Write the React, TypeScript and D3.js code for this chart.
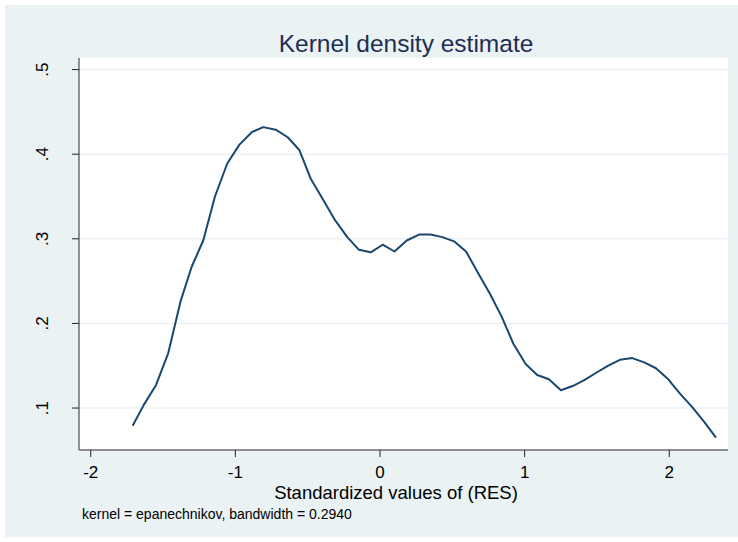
import React from 'react';
import * as d3 from 'd3';

// density estimate (50 evaluation points)
const gridX = [
  -1.710, -1.632, -1.549, -1.464, -1.379, -1.302, -1.222, -1.141, -1.056, -0.973,
  -0.887, -0.807, -0.721, -0.638, -0.558, -0.479, -0.392, -0.311, -0.226, -0.145,
  -0.064, 0.019, 0.100, 0.185, 0.270, 0.350, 0.431, 0.512, 0.595, 0.680,
  0.760, 0.841, 0.922, 1.007, 1.087, 1.168, 1.251, 1.332, 1.412, 1.498,
  1.578, 1.659, 1.744, 1.827, 1.908, 1.993, 2.074, 2.159, 2.240, 2.323,
];
const density = [
  0.079, 0.104, 0.127, 0.165, 0.226, 0.267, 0.298, 0.350, 0.389, 0.411,
  0.426, 0.432, 0.429, 0.420, 0.405, 0.371, 0.346, 0.322, 0.302, 0.287,
  0.284, 0.293, 0.285, 0.298, 0.305, 0.305, 0.302, 0.297, 0.285, 0.259,
  0.235, 0.208, 0.176, 0.152, 0.139, 0.134, 0.121, 0.126, 0.133, 0.142,
  0.150, 0.157, 0.159, 0.154, 0.147, 0.134, 0.117, 0.101, 0.084, 0.065,
];
const xTicks = [-2, -1, 0, 1, 2];
const yTicks = [0.1, 0.2, 0.3, 0.4, 0.5];
const yTickLabels = ['.1', '.2', '.3', '.4', '.5'];

const W = 738;
const H = 542;
const plot = { left: 79, right: 728, top: 58, bottom: 450 };

const App: React.FC = () => {
  const x = d3.scaleLinear().domain([-2.081, 2.406]).range([plot.left, plot.right]);
  const y = d3.scaleLinear().domain([0.0504, 0.5137]).range([plot.bottom, plot.top]);

  const pts: [number, number][] = gridX.map((v, i) => [v, density[i]]);
  const line = d3.line<[number, number]>()
    .x(d => x(d[0]))
    .y(d => y(d[1]));

  const font = '"Liberation Sans", Arial, sans-serif';

  return (
    <svg width={W} height={H} style={{ position: 'absolute', left: 0, top: 0 }} fontFamily={font}>
      <rect x={0} y={0} width={W} height={H} fill="#ffffff" />
      <rect x={5} y={5} width={W - 5} height={H - 10} fill="#eaf2f3" />
      <rect x={plot.left} y={plot.top} width={plot.right - plot.left} height={plot.bottom - plot.top} fill="#ffffff" />

      {/* gridlines */}
      {yTicks.map(t => (
        <line key={'g' + t} x1={plot.left} x2={plot.right} y1={y(t)} y2={y(t)} stroke="#eaf2f3" strokeWidth={1.5} />
      ))}

      {/* title */}
      <text x={406} y={52} textAnchor="middle" fontSize={24.5} fill="#1e2d53">Kernel density estimate</text>

      {/* curve */}
      <path d={line(pts) || ''} fill="none" stroke="#1a476f" strokeWidth={2} strokeLinejoin="round" />

      {/* axes */}
      <line x1={plot.left} x2={plot.left} y1={plot.top} y2={plot.bottom} stroke="#6e6e6e" strokeWidth={1.5} />
      <line x1={plot.left} x2={plot.right} y1={plot.bottom} y2={plot.bottom} stroke="#6e6e6e" strokeWidth={1.5} />

      {yTicks.map((t, i) => (
        <g key={'y' + t}>
          <line x1={plot.left - 7} x2={plot.left} y1={y(t)} y2={y(t)} stroke="#222" strokeWidth={1} />
          <text transform={`translate(48,${y(t)}) rotate(-90)`} textAnchor="middle" fontSize={17} fill="#000">
            {yTickLabels[i]}
          </text>
        </g>
      ))}

      {xTicks.map(t => (
        <g key={'x' + t}>
          <line x1={x(t)} x2={x(t)} y1={plot.bottom} y2={plot.bottom + 7} stroke="#222" strokeWidth={1} />
          <text x={x(t)} y={478} textAnchor="middle" fontSize={17} fill="#000">{t}</text>
        </g>
      ))}

      <text x={396} y={499} textAnchor="middle" fontSize={18.5} fill="#000">Standardized values of (RES)</text>
      <text x={82} y={519} fontSize={14} fill="#000">kernel = epanechnikov, bandwidth = 0.2940</text>
    </svg>
  );
};

export default App;
